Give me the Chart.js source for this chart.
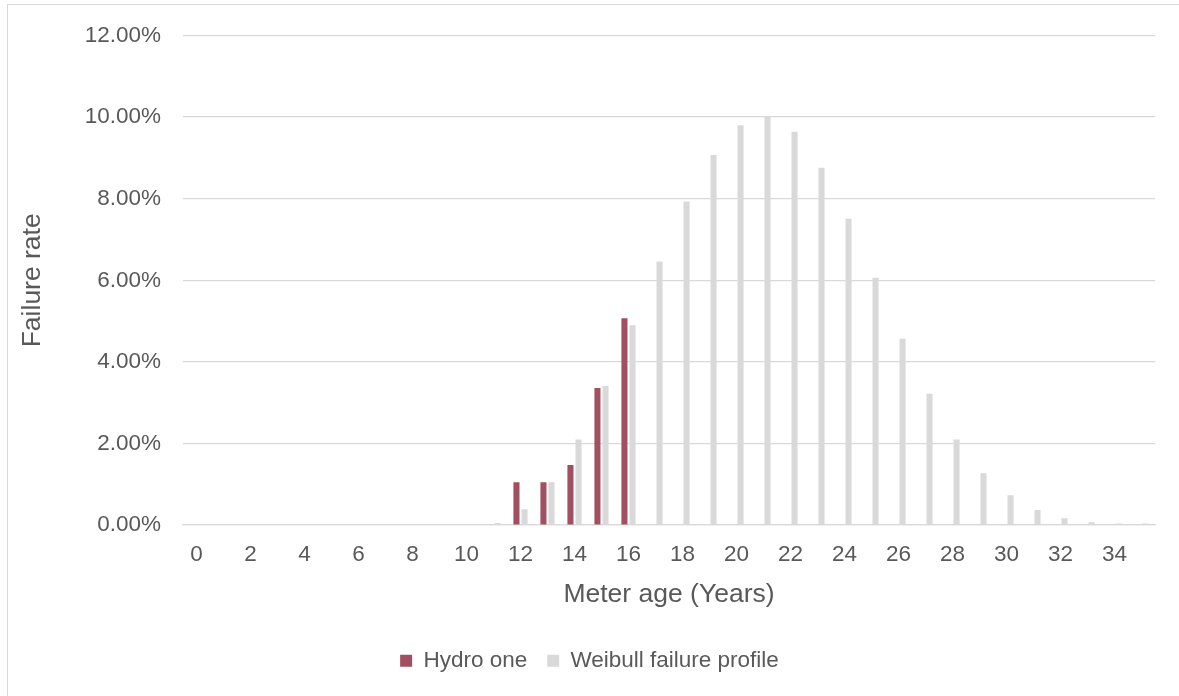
<!DOCTYPE html>
<html>
<head>
<meta charset="utf-8">
<script src="https://cdn.jsdelivr.net/npm/chart.js@4"></script>
<style>
  html, body { margin: 0; padding: 0; background: #ffffff; overflow: hidden; }
  #frame { position: absolute; left: 7px; top: 4px; width: 1240px; height: 760px; border: 1px solid #D9D9D9; box-sizing: border-box; }
  #wrap { position: absolute; left: 0; top: 0; width: 1179px; height: 696px; }
</style>
</head>
<body>
<div id="frame"></div>
<div id="wrap"><canvas id="chart" width="1179" height="696"></canvas></div>
<script>
// Meter age in years (one category per year)
const meterAges = [0, 1, 2, 3, 4, 5, 6, 7, 8, 9, 10, 11, 12, 13, 14, 15, 16, 17,
                   18, 19, 20, 21, 22, 23, 24, 25, 26, 27, 28, 29, 30, 31, 32, 33, 34, 35];

// Observed failure rate (%), only ages 12-16 reported
const hydroOne = [null, null, null, null, null, null, null, null, null, null, null, null,
                  1.05, 1.05, 1.47, 3.36, 5.07,
                  null, null, null, null, null, null, null, null, null, null, null, null, null,
                  null, null, null, null, null, null];

// Weibull failure profile (%)
const weibull = [0, 0, 0, 0, 0, 0, 0, 0, 0, 0, 0, 0.05,
                 0.39, 1.05, 2.10, 3.41, 4.90, 6.46, 7.93, 9.07, 9.80, 10.00,
                 9.64, 8.76, 7.51, 6.06, 4.57, 3.22, 2.10, 1.27, 0.73, 0.37,
                 0.17, 0.07, 0.04, 0.04];

// Y axis ticks (%)
const yTicks = [0, 2, 4, 6, 8, 10, 12];

const seriesNames = ['Hydro one', 'Weibull failure profile'];
const textColor = '#595959';
const gridColor = '#D9D9D9';
const fontFamily = '"Liberation Sans", Arial, sans-serif';

new Chart(document.getElementById('chart'), {
  type: 'bar',
  data: {
    labels: meterAges,
    datasets: [
      { label: seriesNames[0], data: hydroOne, backgroundColor: '#A05060', borderWidth: 0,
        categoryPercentage: 0.6, barPercentage: 0.75 },
      { label: seriesNames[1], data: weibull, backgroundColor: '#D9D9D9', borderWidth: 0,
        categoryPercentage: 0.6, barPercentage: 0.75 }
    ]
  },
  options: {
    responsive: false,
    animation: false,
    devicePixelRatio: 1,
    layout: { padding: { top: 33, right: 24, left: 24, bottom: 14 } },
    plugins: {
      tooltip: { enabled: false },
      legend: {
        position: 'bottom',
        labels: {
          color: textColor,
          font: { family: fontFamily, size: 22.5 },
          boxWidth: 12,
          boxHeight: 12,
          padding: 20
        }
      }
    },
    scales: {
      x: {
        grid: { display: false, drawTicks: false },
        border: { display: true, color: gridColor, width: 1.3 },
        ticks: {
          color: textColor,
          font: { family: fontFamily, size: 22.5 },
          padding: 16,
          autoSkip: false,
          maxRotation: 0,
          callback: function (value, index) {
            return index % 2 === 0 ? String(meterAges[index]) : '';
          }
        },
        title: {
          display: true,
          text: 'Meter age (Years)',
          color: textColor,
          font: { family: fontFamily, size: 26.5 },
          padding: { top: -5.4, bottom: 19 }
        }
      },
      y: {
        min: yTicks[0],
        max: yTicks[yTicks.length - 1],
        afterFit: function (scale) { scale.width = 159; },
        afterBuildTicks: function (scale) {
          scale.ticks = yTicks.map(function (v) { return { value: v }; });
        },
        grid: { color: gridColor, lineWidth: 1.3, drawTicks: false },
        border: { display: false },
        ticks: {
          color: textColor,
          font: { family: fontFamily, size: 22.5 },
          padding: 22,
          callback: function (value) { return value.toFixed(2) + '%'; }
        },
        title: {
          display: true,
          text: 'Failure rate',
          color: textColor,
          font: { family: fontFamily, size: 26.5 },
          padding: { top: -7, bottom: 0 }
        }
      }
    }
  }
});
</script>
</body>
</html>
